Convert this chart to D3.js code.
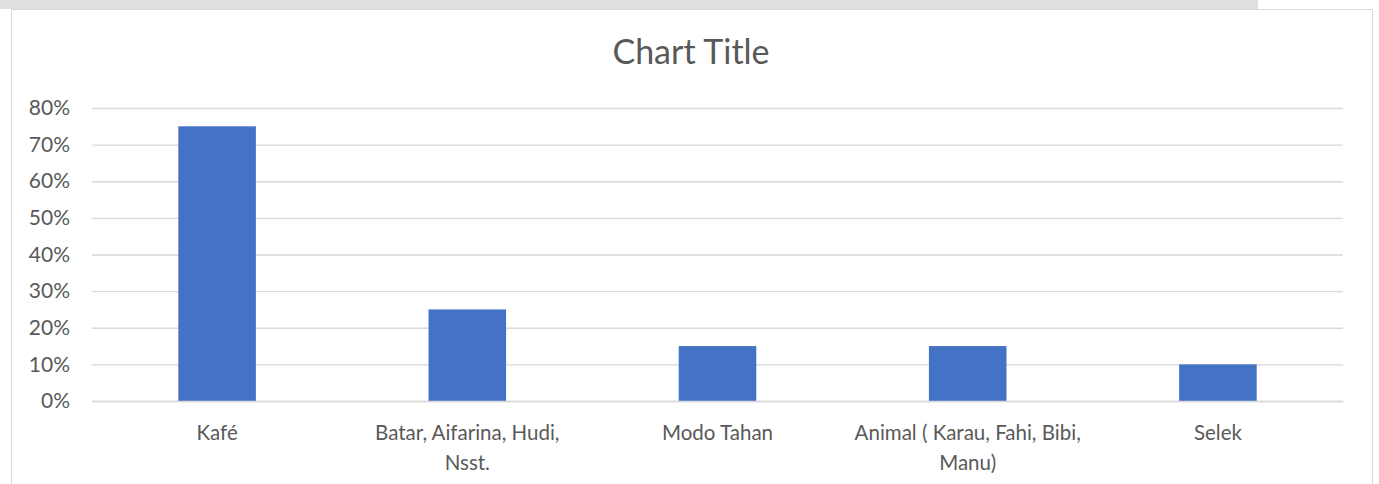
<!DOCTYPE html>
<html>
<head>
<meta charset="utf-8">
<script src="https://cdn.jsdelivr.net/npm/d3@7"></script>
<style>
  html, body { margin: 0; padding: 0; background: #fff; }
  svg { display: block; font-family: Lato, "Open Sans", sans-serif; }
</style>
</head>
<body>
<svg id="chart"></svg>
<script>
// data
const categories = ["Kafé", "Batar, Aifarina, Hudi, Nsst.", "Modo Tahan", "Animal ( Karau, Fahi, Bibi, Manu)", "Selek"];
const values = [0.75, 0.25, 0.15, 0.15, 0.10];
const yTicks = [0, 0.1, 0.2, 0.3, 0.4, 0.5, 0.6, 0.7, 0.8];
const chartTitle = "Chart Title";

const W = 1379, H = 484;
const margin = { top: 108, right: 36, bottom: 83, left: 92 };
const width = W - margin.left - margin.right;
const height = H - margin.top - margin.bottom;
const labelSize = 20.5;

const svg = d3.select("#chart")
  .attr("width", W)
  .attr("height", H);

// faded picture strip behind the chart
svg.append("rect")
  .attr("x", 0).attr("y", 0)
  .attr("width", 1258).attr("height", 9)
  .attr("fill", "#e0e0e0");

// chart area
svg.append("rect")
  .attr("x", 11.5).attr("y", 9.5)
  .attr("width", 1361).attr("height", H + 10)
  .attr("fill", "#fff")
  .attr("stroke", "#d9d9d9")
  .attr("stroke-width", 1);

svg.append("text")
  .attr("x", 691)
  .attr("y", 64)
  .attr("text-anchor", "middle")
  .attr("fill", "#595959")
  .attr("font-size", 34)
  .text(chartTitle);

const g = svg.append("g")
  .attr("transform", `translate(${margin.left},${margin.top})`);

const x = d3.scaleBand()
  .domain(categories)
  .range([0, width])
  .paddingInner(0.69)
  .paddingOuter(0.345);

const y = d3.scaleLinear()
  .domain([0, 0.8])
  .range([height, 0]);

// gridlines
g.append("g")
  .attr("class", "grid")
  .call(d3.axisLeft(y).tickValues(yTicks).tickSize(-width).tickFormat(""))
  .call(s => s.select(".domain").remove())
  .call(s => s.selectAll("line").attr("stroke", "#d9d9d9").attr("stroke-width", 1.3));

// y axis labels
g.append("g")
  .attr("class", "y-axis")
  .call(d3.axisLeft(y).tickValues(yTicks).tickSize(0).tickPadding(22).tickFormat(d3.format(".0%")))
  .call(s => s.select(".domain").remove())
  .call(s => s.selectAll("text")
    .attr("fill", "#595959")
    .attr("font-size", 21)
    .attr("font-family", "Lato, sans-serif"));

// bars
g.selectAll("rect.bar")
  .data(values)
  .enter().append("rect")
  .attr("class", "bar")
  .attr("x", (d, i) => x(categories[i]))
  .attr("y", d => y(d))
  .attr("width", x.bandwidth())
  .attr("height", d => height - y(d))
  .attr("fill", "#4472c4");

// x axis
const xAxis = g.append("g")
  .attr("class", "x-axis")
  .attr("transform", `translate(0,${height})`)
  .call(d3.axisBottom(x).tickSize(0).tickPadding(0));
xAxis.select(".domain").attr("stroke", "#d9d9d9").attr("stroke-width", 1.3);
xAxis.selectAll("text")
  .attr("fill", "#595959")
  .attr("font-size", labelSize)
  .attr("font-family", "Lato, sans-serif")
  .call(wrap, 230);

function wrap(sel, maxW) {
  sel.each(function () {
    const text = d3.select(this);
    const words = text.text().split(/\s+/);
    text.text(null).attr("dy", null).attr("y", null);
    let line = [];
    let lineNo = 0;
    let tspan = text.append("tspan").attr("x", 0).attr("y", 39);
    for (const w of words) {
      line.push(w);
      tspan.text(line.join(" "));
      if (tspan.node().getComputedTextLength() > maxW && line.length > 1) {
        line.pop();
        tspan.text(line.join(" "));
        line = [w];
        lineNo++;
        tspan = text.append("tspan").attr("x", 0).attr("y", 39 + lineNo * 30).text(w);
      }
    }
  });
}
</script>
</body>
</html>
